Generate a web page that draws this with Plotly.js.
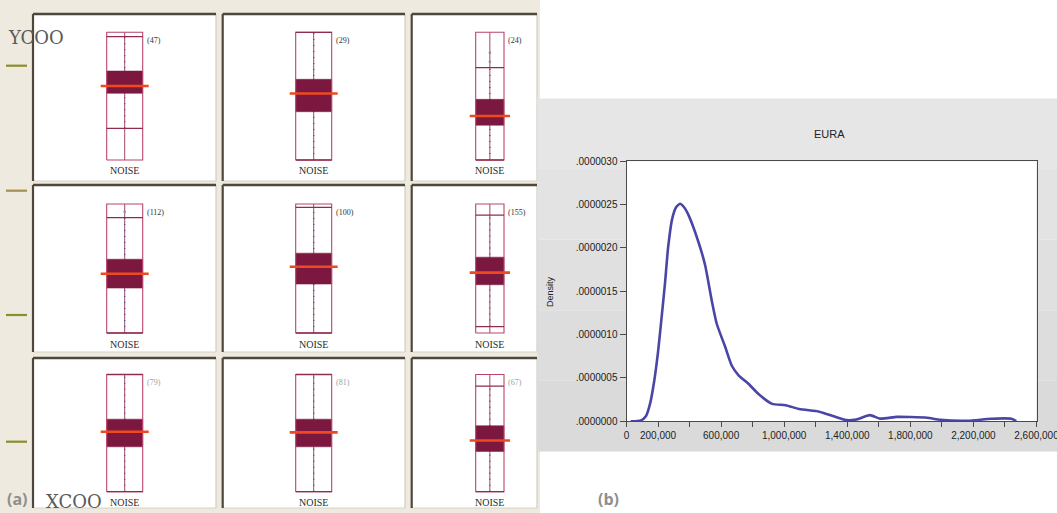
<!DOCTYPE html>
<html>
<head>
<meta charset="utf-8">
<script src="https://cdn.plot.ly/plotly-3.0.1.min.js"></script>
<style>
html,body{margin:0;padding:0;background:#ffffff;}
#chart{width:1057px;height:513px;}
</style>
</head>
<body>
<div id="chart"></div>
<script>
// ---------------- DATA ----------------
// Panel (a): 3x3 grid of box plots of NOISE (values on a 0-100 scale of each cell's range)
const boxVariable = 'NOISE';
const rowVariable = 'YCOO';
const colVariable = 'XCOO';
const cellCounts   = ['(47)', '(29)', '(24)', '(112)', '(100)', '(155)', '(79)', '(81)', '(67)'];
const boxMin       = [0, 0, 0, 0, 0, 0, 0, 0, 0];
const boxMax       = [100, 100, 100, 100, 100, 100, 100, 100, 100];
const lowerWhisker = [24.8, 0, 0, 0, 0, 5, 0, 0, 0];
const q1Values     = [52.2, 37.8, 27.2, 34.8, 37.9, 37.4, 38.3, 38.3, 34.3];
const medianValues = [57.9, 52.1, 34.5, 45.9, 51.4, 46.8, 51.1, 50.6, 43.7];
const q3Values     = [69.7, 63.2, 47.5, 57.2, 61.9, 58.8, 61.9, 61.9, 56.3];
const upperWhisker = [96.6, 100, 72.3, 89.4, 97.4, 91.3, 100, 100, 90];
const outlierValues = [[], [], [84, 77], [94], [], [], [], [], []];

// Panel (b): density of EURA
const densityTitle = 'EURA';
const densityAxisTitle = 'Density';
const euraX = [27300, 92100, 123800, 149200, 174600, 200000, 225500, 244500, 263600, 289000,
  314400, 339800, 365200, 390600, 454100, 498600, 539800, 572200, 625600, 668100,
  710700, 774800, 839000, 924000, 1009800, 1095500, 1222500, 1308300, 1394000, 1457500,
  1543300, 1607400, 1714100, 1799200, 1906000, 1991000, 2162500, 2311700, 2440000, 2471700];
const euraDensity = [0, 0.01e-6, 0.06e-6, 0.2e-6, 0.45e-6, 0.8e-6, 1.25e-6, 1.6e-6, 2.0e-6, 2.33e-6,
  2.47e-6, 2.51e-6, 2.47e-6, 2.39e-6, 2.08e-6, 1.80e-6, 1.40e-6, 1.125e-6, 0.86e-6, 0.64e-6,
  0.53e-6, 0.43e-6, 0.31e-6, 0.20e-6, 0.185e-6, 0.14e-6, 0.11e-6, 0.06e-6, 0.012e-6, 0.02e-6,
  0.07e-6, 0.03e-6, 0.05e-6, 0.048e-6, 0.04e-6, 0.016e-6, 0.005e-6, 0.028e-6, 0.028e-6, 0];
const xTickValues = [0, 200000, 400000, 600000, 800000, 1000000, 1200000, 1400000, 1600000, 1800000, 2000000, 2200000, 2400000, 2600000];
const xTickLabels = ['0', '200,000', '', '600,000', '', '1,000,000', '', '1,400,000', '', '1,800,000', '', '2,200,000', '', '2,600,000'];
const yTickValues = [0, 0.5e-6, 1.0e-6, 1.5e-6, 2.0e-6, 2.5e-6, 3.0e-6];
const yTickLabels = ['.0000000', '.0000005', '.0000010', '.0000015', '.0000020', '.0000025', '.0000030'];

// ---------------- LAYOUT GEOMETRY ----------------
const W = 1057, H = 513;
const px = x => x / W;
const py = y => 1 - y / H;

const cellColX = [[33, 216], [222.7, 405], [411.7, 537]];
const cellRowY = [[14, 181], [185, 352], [358, 508]];
const rectX = [[106.7, 142.7], [295.7, 331.7], [475.7, 504]];
const rectY = [[32.3, 160], [204, 333], [374.5, 491.7]];

const traces = [];
const layout = {
  width: W, height: H,
  margin: {l: 0, r: 0, t: 0, b: 0},
  paper_bgcolor: '#ffffff',
  plot_bgcolor: 'rgba(0,0,0,0)',
  showlegend: false,
  shapes: [],
  annotations: []
};

// background of panel (a)
layout.shapes.push({type: 'rect', xref: 'paper', yref: 'paper', x0: 0, x1: px(540), y0: 0, y1: 1,
  fillcolor: '#eeeadf', line: {width: 0}, layer: 'below'});

// olive tick marks at the left margin
[65.7, 190.7, 315, 441.7].forEach((y, i) => {
  layout.shapes.push({type: 'line', xref: 'paper', yref: 'paper', x0: px(6), x1: px(27), y0: py(y), y1: py(y),
    line: {color: i === 1 ? '#a38f4e' : '#8d8d2e', width: 2.2}, layer: 'below'});
});

for (let r = 0; r < 3; r++) {
  for (let c = 0; c < 3; c++) {
    const k = r * 3 + c;
    const [cx0, cx1] = cellColX[c];
    const [cy0, cy1] = cellRowY[r];
    // cell panel
    layout.shapes.push({type: 'rect', xref: 'paper', yref: 'paper', x0: px(cx0), x1: px(cx1), y0: py(cy1), y1: py(cy0),
      fillcolor: '#ffffff', line: {width: 0}, layer: 'below'});
    layout.shapes.push({type: 'line', xref: 'paper', yref: 'paper', x0: px(cx1), x1: px(cx1), y0: py(cy1), y1: py(cy0),
      line: {color: '#c9c5b9', width: 1}, layer: 'below'});
    layout.shapes.push({type: 'line', xref: 'paper', yref: 'paper', x0: px(cx0), x1: px(cx1), y0: py(cy1), y1: py(cy1),
      line: {color: '#d6d2c6', width: 1}, layer: 'below'});
    layout.shapes.push({type: 'line', xref: 'paper', yref: 'paper', x0: px(cx0), x1: px(cx1), y0: py(cy0), y1: py(cy0),
      line: {color: '#4f473b', width: 2.6}, layer: 'below'});
    layout.shapes.push({type: 'line', xref: 'paper', yref: 'paper', x0: px(cx0), x1: px(cx0), y0: py(cy1), y1: py(cy0),
      line: {color: '#4f473b', width: 2.2}, layer: 'below'});

    // subplot axes for the box
    const [bx0, bx1] = rectX[c];
    const [by0, by1] = rectY[r];
    const bw = bx1 - bx0, bc = (bx0 + bx1) / 2, bh = by1 - by0;
    const n = k + 1;
    const xa = 'xaxis' + n, ya = 'yaxis' + n;
    layout[xa] = {domain: [px(bc - bw), px(bc + bw)], range: [-1, 1], visible: false, fixedrange: true, anchor: 'y' + n};
    layout[ya] = {domain: [py(by1 + 0.04 * bh), py(by0 - 0.04 * bh)], range: [-4, 104], visible: false, fixedrange: true, anchor: 'x' + n};
    const xr = 'x' + n, yr = 'y' + n;

    // center line
    traces.push({type: 'scatter', mode: 'lines', xaxis: xr, yaxis: yr, hoverinfo: 'skip',
      x: [0, 0], y: [boxMin[k], boxMax[k]], line: {color: '#a04a6a', width: 1}});
    // data dots along whisker
    traces.push({type: 'scatter', mode: 'lines', xaxis: xr, yaxis: yr, hoverinfo: 'skip',
      x: [0, 0], y: [lowerWhisker[k], upperWhisker[k]], line: {color: '#4a4598', width: 1.3, dash: '1px,5px'}});
    // IQR box
    traces.push({type: 'scatter', mode: 'lines', xaxis: xr, yaxis: yr, hoverinfo: 'skip', fill: 'toself',
      x: [-0.5, 0.5, 0.5, -0.5, -0.5], y: [q1Values[k], q1Values[k], q3Values[k], q3Values[k], q1Values[k]],
      fillcolor: '#7c1840', line: {color: '#7c1840', width: 0.5}});
    // outer range rectangle
    traces.push({type: 'scatter', mode: 'lines', xaxis: xr, yaxis: yr, hoverinfo: 'skip',
      x: [-0.5, 0.5, 0.5, -0.5, -0.5], y: [boxMin[k], boxMin[k], boxMax[k], boxMax[k], boxMin[k]],
      line: {color: '#b8446c', width: 1.1}});
    // whisker ends
    traces.push({type: 'scatter', mode: 'lines', xaxis: xr, yaxis: yr, hoverinfo: 'skip',
      x: [-0.5, 0.5, null, -0.5, 0.5], y: [upperWhisker[k], upperWhisker[k], null, lowerWhisker[k], lowerWhisker[k]],
      line: {color: '#8e2c50', width: 1.3}});
    // median
    traces.push({type: 'scatter', mode: 'lines', xaxis: xr, yaxis: yr, hoverinfo: 'skip',
      x: [-0.5 - 6 / bw, 0.5 + 6 / bw], y: [medianValues[k], medianValues[k]],
      line: {color: '#ee4a1e', width: 2.6}});
    // outliers
    if (outlierValues[k].length) {
      traces.push({type: 'scatter', mode: 'markers', xaxis: xr, yaxis: yr, hoverinfo: 'skip',
        x: outlierValues[k].map(() => 0), y: outlierValues[k], marker: {color: '#8a8a9a', size: 2.5}});
    }

    // count label
    layout.annotations.push({xref: 'paper', yref: 'paper', x: px(bx1 + 2), y: py(by0 + 8), xanchor: 'left', yanchor: 'middle',
      text: cellCounts[k], showarrow: false,
      font: {family: 'Liberation Serif, serif', size: 8, color: r === 2 ? '#a0a0a0' : '#333333'}});
    // variable label
    layout.annotations.push({xref: 'paper', yref: 'paper', x: px(bc), y: py(by1 + 11), xanchor: 'center', yanchor: 'middle',
      text: boxVariable, showarrow: false,
      font: {family: 'Liberation Serif, serif', size: 10, color: '#2a2a2a'}});
  }
}

// row / column variable labels and panel letters
layout.annotations.push({xref: 'paper', yref: 'paper', x: px(6), y: py(37), xanchor: 'left', yanchor: 'middle',
  text: rowVariable, showarrow: false, font: {family: 'DejaVu Serif, serif', size: 18, color: '#5a5a5a'}});
layout.annotations.push({xref: 'paper', yref: 'paper', x: px(44), y: py(501), xanchor: 'left', yanchor: 'middle',
  text: colVariable, showarrow: false, font: {family: 'DejaVu Serif, serif', size: 18, color: '#5a5a5a'}});
layout.annotations.push({xref: 'paper', yref: 'paper', x: px(17), y: py(499), xanchor: 'center', yanchor: 'middle',
  text: '<b>(a)</b>', showarrow: false, font: {family: 'Open Sans, sans-serif', size: 16, color: '#8e8e8e'}});
layout.annotations.push({xref: 'paper', yref: 'paper', x: px(609), y: py(499), xanchor: 'center', yanchor: 'middle',
  text: '<b>(b)</b>', showarrow: false, font: {family: 'Open Sans, sans-serif', size: 16, color: '#8e8e8e'}});

// ---------------- Panel (b) ----------------
// gentle vertical gradient of the grey frame
const bandColors = ['#e6e6e6', '#e3e3e3', '#e0e0e0', '#dddddd', '#dadada'];
const gTop = 98.4, gBot = 451.4, gStep = (gBot - gTop) / bandColors.length;
bandColors.forEach((col, i) => {
  layout.shapes.push({type: 'rect', xref: 'paper', yref: 'paper', x0: px(537.4), x1: 1,
    y0: py(gTop + (i + 1) * gStep), y1: py(gTop + i * gStep),
    fillcolor: col, line: {width: 0}, layer: 'below'});
});
layout.shapes.push({type: 'rect', xref: 'paper', yref: 'paper', x0: px(626.5), x1: px(1036.5), y0: py(421.2), y1: py(161.3),
  fillcolor: '#ffffff', line: {width: 0}, layer: 'below'});

layout.xaxis10 = {domain: [px(626.5), px(1036.5)], range: [0, 2600000], anchor: 'y10', fixedrange: true,
  showline: true, mirror: true, linecolor: '#4a4a4a', linewidth: 1,
  ticks: 'outside', ticklen: 5, tickcolor: '#4a4a4a', tickwidth: 1,
  tickmode: 'array', tickvals: xTickValues, ticktext: xTickLabels, ticklabeloverflow: 'allow',
  tickfont: {family: 'Liberation Sans, Arial, sans-serif', size: 10, color: '#222222'},
  showgrid: false, zeroline: false};
layout.yaxis10 = {domain: [py(421.2), py(161.3)], range: [0, 3.0e-6], anchor: 'x10', fixedrange: true,
  showline: true, mirror: true, linecolor: '#4a4a4a', linewidth: 1,
  ticks: 'outside', ticklen: 6, tickcolor: '#4a4a4a', tickwidth: 1,
  tickmode: 'array', tickvals: yTickValues, ticktext: yTickLabels,
  tickfont: {family: 'Liberation Sans, Arial, sans-serif', size: 10, color: '#222222'},
  showgrid: false, zeroline: false};

traces.push({type: 'scatter', mode: 'lines', xaxis: 'x10', yaxis: 'y10', hoverinfo: 'skip',
  x: euraX, y: euraDensity, line: {color: '#4a46a6', width: 2.6, shape: 'spline', smoothing: 0.6}});

layout.annotations.push({xref: 'paper', yref: 'paper', x: px(829), y: py(134), xanchor: 'center', yanchor: 'middle',
  text: densityTitle, showarrow: false, font: {family: 'Liberation Sans, Arial, sans-serif', size: 11, color: '#222222'}});
layout.annotations.push({xref: 'paper', yref: 'paper', x: px(550), y: py(292), xanchor: 'center', yanchor: 'middle',
  text: densityAxisTitle, textangle: -90, showarrow: false, font: {family: 'Liberation Sans, Arial, sans-serif', size: 9, color: '#222222'}});

Plotly.newPlot('chart', traces, layout, {staticPlot: true, displayModeBar: false});
</script>
</body>
</html>
